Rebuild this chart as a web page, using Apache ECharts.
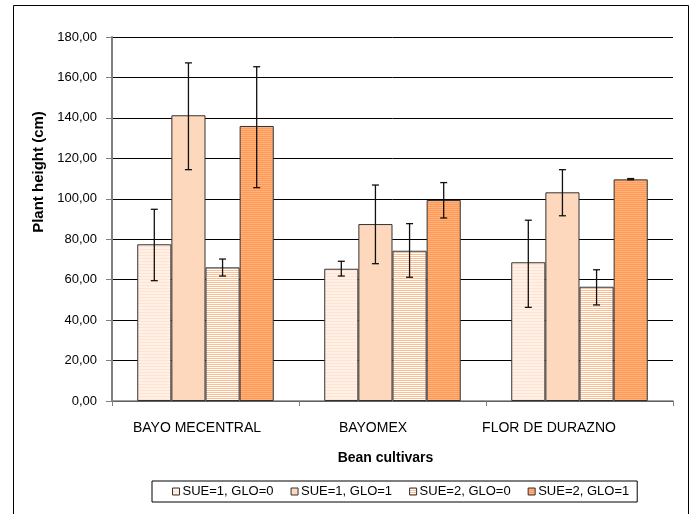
<!DOCTYPE html>
<html><head><meta charset="utf-8">
<script src="https://cdn.jsdelivr.net/npm/echarts@6/dist/echarts.min.js"></script>
<style>html,body{margin:0;padding:0;background:#fff}#c{width:696px;height:514px}</style>
</head><body><div id="c"></div>
<script>
const categories = ['BAYO MECENTRAL', 'BAYOMEX', 'FLOR DE DURAZNO'];
const seriesNames = ['SUE=1, GLO=0', 'SUE=1, GLO=1', 'SUE=2, GLO=0', 'SUE=2, GLO=1'];
const s1 = [77.5, 65.4, 68.6];
const s2 = [141.3, 87.5, 103.2];
const s3 = [66.1, 74.3, 56.5];
const s4 = [136.0, 99.4, 109.6];
const s1Low = [59.5, 61.8, 46.3], s1High = [94.8, 69.1, 89.4];
const s2Low = [114.4, 67.9, 91.6], s2High = [167.2, 106.8, 114.4];
const s3Low = [61.8, 61.2, 47.5], s3High = [70.2, 87.7, 64.9];
const s4Low = [105.5, 90.5, 109.4], s4High = [165.3, 108.0, 110.0];
const yTicks = [0, 20, 40, 60, 80, 100, 120, 140, 160, 180];

function stripe(base, line, period, lw) {
  const c = document.createElement('canvas');
  c.width = 4; c.height = period;
  const g = c.getContext('2d');
  g.fillStyle = base; g.fillRect(0, 0, 4, period);
  g.fillStyle = line; g.fillRect(0, 0, 4, lw);
  return { image: c, repeat: 'repeat' };
}
const fills = [
  stripe('#FFF1E8', '#FFE3D0', 3, 1),
  '#FDD8BC',
  stripe('#FFFFFF', '#FFBE92', 2, 1),
  stripe('#FFB27E', '#FF9A55', 2, 1)
];
const vals = [s1, s2, s3, s4];
const lows = [s1Low, s2Low, s3Low, s4Low];
const highs = [s1High, s2High, s3High, s4High];
const catGap = 0.27;

const series = [];
seriesNames.forEach((n, i) => {
  series.push({
    name: n, type: 'bar', data: vals[i], barGap: '0%', barCategoryGap: '27%',
    itemStyle: { color: fills[i], borderColor: '#333', borderWidth: 1 },
    emphasis: { disabled: true }, z: 2
  });
});
seriesNames.forEach((n, i) => {
  series.push({
    type: 'custom', name: 'err' + i, z: 5,
    data: categories.map((c, k) => [k, lows[i][k], highs[i][k]]),
    renderItem: function (params, api) {
      const band = api.size([1, 0])[0];
      const bw = band * (1 - catGap) / 4;
      const cx = api.coord([api.value(0), 0])[0] + (i - 1.5) * bw;
      const lo = api.coord([api.value(0), api.value(1)])[1];
      const hi = api.coord([api.value(0), api.value(2)])[1];
      const st = { stroke: '#111', lineWidth: 1.3 };
      return { type: 'group', children: [
        { type: 'line', shape: { x1: cx, y1: lo, x2: cx, y2: hi }, style: st },
        { type: 'line', shape: { x1: cx - 3.5, y1: lo, x2: cx + 3.5, y2: lo }, style: st },
        { type: 'line', shape: { x1: cx - 3.5, y1: hi, x2: cx + 3.5, y2: hi }, style: st }
      ]};
    }
  });
});

const labelKeys = ['a', 'b', 'c'];
const chart = echarts.init(document.getElementById('c'), null, { renderer: 'canvas' });
chart.setOption({
  animation: false,
  textStyle: { fontFamily: 'Liberation Sans, Arial, sans-serif' },
  graphic: [{ type: 'rect', shape: { x: 13.5, y: 5.5, width: 675, height: 520 },
    style: { fill: 'none', stroke: '#000', lineWidth: 1 }, silent: true }],
  grid: { left: 112, right: 23, top: 37, bottom: 113 },
  legend: {
    data: seriesNames, bottom: 12, left: 152,
    itemWidth: 7, itemHeight: 7, itemGap: 17,
    padding: [4, 8, 4, 20],
    borderColor: '#000', borderWidth: 1,
    icon: 'rect',
    itemStyle: { borderColor: '#333', borderWidth: 1 },
    textStyle: { fontSize: 13, color: '#000', fontFamily: 'Liberation Sans, Arial, sans-serif', padding: [0, 0, 0, -2] }
  },
  xAxis: {
    type: 'category', data: categories,
    name: 'Bean cultivars', nameLocation: 'middle', nameGap: 50,
    nameTextStyle: { fontSize: 14, fontWeight: 'bold', color: '#000', padding: [0, 14, 0, 0] },
    axisLine: { lineStyle: { color: '#808080', width: 1.5 } },
    axisTick: { show: true, length: 5, lineStyle: { color: '#808080' } },
    axisLabel: { fontSize: 14, color: '#000', margin: 20, interval: 0, hideOverlap: false,
      formatter: (v, idx) => '{' + labelKeys[idx] + '|' + v + '}',
      rich: {
        a: { fontSize: 14, color: '#000', padding: [0, 17, 0, 0] },
        b: { fontSize: 14, color: '#000', padding: [0, 39, 0, 0] },
        c: { fontSize: 14, color: '#000', padding: [0, 61, 0, 0] }
      }
    }
  },
  yAxis: {
    type: 'value', min: 0, max: 180, interval: 20,
    name: 'Plant height (cm)', nameLocation: 'middle', nameGap: 59,
    nameTextStyle: { fontSize: 15, fontWeight: 'bold', color: '#000', padding: [0, 0, 0, 94] },
    axisLine: { show: true, lineStyle: { color: '#808080', width: 2 } },
    axisTick: { show: true, length: 6, lineStyle: { color: '#808080' } },
    axisLabel: { fontSize: 13, color: '#000', margin: 15,
      formatter: v => yTicks.includes(v) ? v.toFixed(2).replace('.', ',') : '' },
    splitLine: { lineStyle: { color: '#000', width: 1 } }
  },
  series: series
});
</script></body></html>
